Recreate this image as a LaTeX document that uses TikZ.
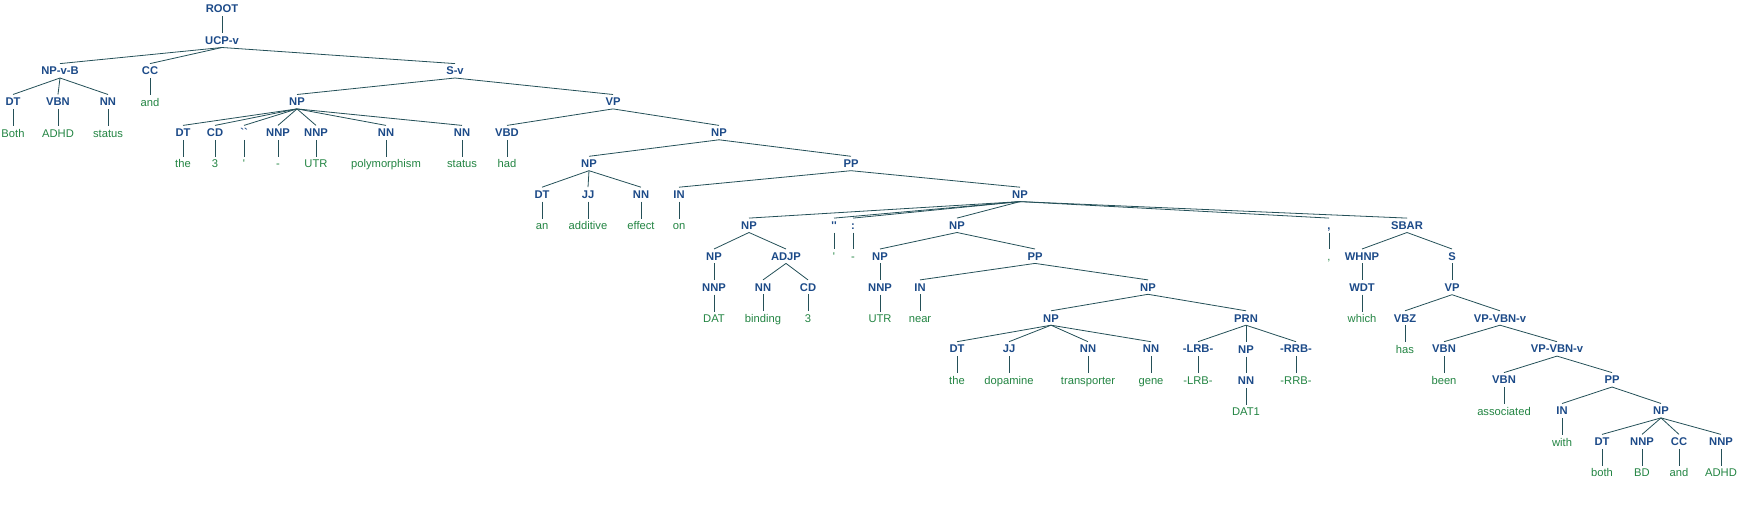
\documentclass[tikz,border=0pt]{standalone}
\usepackage{fontspec}
\usepackage{tikz}
\usetikzlibrary{positioning}
\newfontfamily\treefont{Liberation Sans}
\definecolor{tagblue}{RGB}{28,74,136}
\definecolor{wordgreen}{RGB}{34,132,66}
\definecolor{branchgray}{RGB}{36,80,88}

\begin{document}
\begin{tikzpicture}[
  x=1pt, y=1pt,
  node distance=16.9pt,
  tagnode/.style={font=\treefont\bfseries\fontsize{11.2}{13}\selectfont, text=tagblue, inner xsep=1pt, inner ysep=3pt, text height=8pt, text depth=0pt},
  wordnode/.style={font=\treefont\fontsize{11.2}{13}\selectfont, text=wordgreen, inner xsep=1pt, inner ysep=3pt, text height=8pt, text depth=0pt},
  branch/.style={draw=branchgray, line width=0.8pt}
  ]
  \useasboundingbox (0,0) rectangle (1760,-511);

  % Top of the tree
  \node[tagnode]  (root)                      at (222,-9)      {ROOT};
  \node[tagnode]  (ucp)     [below=of root]                    {UCP-v};

  % Left conjunct
  \node[tagnode]  (npvb)                      at (60,-70.8)    {NP-v-B};
  \node[tagnode]  (dt1)                       at (13,-101.7)   {DT};
  \node[tagnode]  (vbn1)                      at (58,-101.7)   {VBN};
  \node[tagnode]  (nn1)                       at (108,-101.7)  {NN};
  \node[wordnode] (both1)   [below=of dt1]                     {Both};
  \node[wordnode] (adhd1)   [below=of vbn1]                    {ADHD};
  \node[wordnode] (status1) [below=of nn1]                     {status};
  \node[tagnode]  (cc1)                       at (150,-70.8)   {CC};
  \node[wordnode] (and1)    [below=of cc1]                     {and};

  % Subject NP
  \node[tagnode]  (sv)                        at (455,-70.8)   {S-v};
  \node[tagnode]  (np1)                       at (297,-101.7)  {NP};
  \node[tagnode]  (dt2)                       at (183,-132.6)  {DT};
  \node[tagnode]  (cd1)                       at (215,-132.6)  {CD};
  \node[tagnode]  (oq1)                       at (244,-132.6)  {``};
  \node[tagnode]  (nnp1)                      at (278,-132.6)  {NNP};
  \node[tagnode]  (nnp2)                      at (316,-132.6)  {NNP};
  \node[tagnode]  (nn2)                       at (386,-132.6)  {NN};
  \node[tagnode]  (nn3)                       at (462,-132.6)  {NN};
  \node[wordnode] (the1)    [below=of dt2]                     {the};
  \node[wordnode] (three1)  [below=of cd1]                     {3};
  \node[wordnode] (quote1)  [below=of oq1]                     {'};
  \node[wordnode] (dash1)   [below=of nnp1]                    {-};
  \node[wordnode] (utr1)    [below=of nnp2]                    {UTR};
  \node[wordnode] (poly)    [below=of nn2]                     {polymorphism};
  \node[wordnode] (status2) [below=of nn3]                     {status};

  % Verb phrase
  \node[tagnode]  (vp1)                       at (613,-101.7)  {VP};
  \node[tagnode]  (vbd1)                      at (507,-132.6)  {VBD};
  \node[wordnode] (had)     [below=of vbd1]                    {had};
  \node[tagnode]  (np2)                       at (719,-132.6)  {NP};
  \node[tagnode]  (np3)                       at (589,-163.5)  {NP};
  \node[tagnode]  (dt3)                       at (542,-194.4)  {DT};
  \node[tagnode]  (jj1)                       at (588,-194.4)  {JJ};
  \node[tagnode]  (nn4)                       at (641,-194.4)  {NN};
  \node[wordnode] (an)      [below=of dt3]                     {an};
  \node[wordnode] (additive)[below=of jj1]                     {additive};
  \node[wordnode] (effect)  [below=of nn4]                     {effect};
  \node[tagnode]  (pp1)                       at (851,-163.5)  {PP};
  \node[tagnode]  (in1)                       at (679,-194.4)  {IN};
  \node[wordnode] (on)      [below=of in1]                     {on};
  \node[tagnode]  (np4)                       at (1020,-194.4) {NP};

  % DAT binding 3
  \node[tagnode]  (np5)                       at (749,-225.3)  {NP};
  \node[tagnode]  (np6)                       at (714,-256.2)  {NP};
  \node[tagnode]  (nnp3)    [below=of np6]                     {NNP};
  \node[wordnode] (dat)     [below=of nnp3]                    {DAT};
  \node[tagnode]  (adjp)                      at (786,-256.2)  {ADJP};
  \node[tagnode]  (nn5)                       at (763,-287.1)  {NN};
  \node[tagnode]  (cd2)                       at (808,-287.1)  {CD};
  \node[wordnode] (binding) [below=of nn5]                     {binding};
  \node[wordnode] (three2)  [below=of cd2]                     {3};

  % Punctuation
  \node[tagnode]  (cq1)                       at (834,-225.3)  {''};
  \node[wordnode] (quote2)  [below=of cq1]                     {'};
  \node[tagnode]  (colon)                     at (853,-225.3)  {:};
  \node[wordnode] (dash2)   [below=of colon]                   {-};

  % UTR near the dopamine transporter gene
  \node[tagnode]  (np7)                       at (957,-225.3)  {NP};
  \node[tagnode]  (np8)                       at (880,-256.2)  {NP};
  \node[tagnode]  (nnp4)    [below=of np8]                     {NNP};
  \node[wordnode] (utr2)    [below=of nnp4]                    {UTR};
  \node[tagnode]  (pp2)                       at (1035,-256.2) {PP};
  \node[tagnode]  (in2)                       at (920,-287.1)  {IN};
  \node[wordnode] (near)    [below=of in2]                     {near};
  \node[tagnode]  (np9)                       at (1148,-287.1) {NP};
  \node[tagnode]  (np10)                      at (1051,-318)   {NP};
  \node[tagnode]  (dt4)                       at (957,-348.9)  {DT};
  \node[tagnode]  (jj2)                       at (1009,-348.9) {JJ};
  \node[tagnode]  (nn6)                       at (1088,-348.9) {NN};
  \node[tagnode]  (nn7)                       at (1151,-348.9) {NN};
  \node[wordnode] (the2)    [below=of dt4]                     {the};
  \node[wordnode] (dopamine)[below=of jj2]                     {dopamine};
  \node[wordnode] (transp)  [below=of nn6]                     {transporter};
  \node[wordnode] (gene)    [below=of nn7]                     {gene};

  % Parenthesis
  \node[tagnode]  (prn)                       at (1246,-318)   {PRN};
  \node[tagnode]  (lrb)                       at (1198,-348.9) {-LRB-};
  \node[tagnode]  (np11)    [below=of prn]                     {NP};
  \node[tagnode]  (rrb)                       at (1296,-348.9) {-RRB-};
  \node[wordnode] (lrbw)    [below=of lrb]                     {-LRB-};
  \node[tagnode]  (nn8)     [below=of np11]                    {NN};
  \node[wordnode] (dat1)    [below=of nn8]                     {DAT1};
  \node[wordnode] (rrbw)    [below=of rrb]                     {-RRB-};

  % Comma and relative clause
  \node[tagnode]  (comma)                     at (1329,-225.3) {,};
  \node[wordnode] (commaw)  [below=of comma]                   {,};
  \node[tagnode]  (sbar)                      at (1407,-225.3) {SBAR};
  \node[tagnode]  (whnp)                      at (1362,-256.2) {WHNP};
  \node[tagnode]  (wdt)     [below=of whnp]                    {WDT};
  \node[wordnode] (which)   [below=of wdt]                     {which};
  \node[tagnode]  (s1)                        at (1452,-256.2) {S};
  \node[tagnode]  (vp2)     [below=of s1]                      {VP};
  \node[tagnode]  (vbz)                       at (1405,-318)   {VBZ};
  \node[wordnode] (has)     [below=of vbz]                     {has};
  \node[tagnode]  (vpvbn1)                    at (1500,-318)   {VP-VBN-v};
  \node[tagnode]  (vbn2)                      at (1444,-348.9) {VBN};
  \node[wordnode] (been)    [below=of vbn2]                    {been};
  \node[tagnode]  (vpvbn2)                    at (1557,-348.9) {VP-VBN-v};
  \node[tagnode]  (vbn3)                      at (1504,-379.8) {VBN};
  \node[wordnode] (assoc)   [below=of vbn3]                    {associated};
  \node[tagnode]  (pp3)                       at (1612,-379.8) {PP};
  \node[tagnode]  (in3)                       at (1562,-410.7) {IN};
  \node[wordnode] (with)    [below=of in3]                     {with};
  \node[tagnode]  (np12)                      at (1661,-410.7) {NP};
  \node[tagnode]  (dt5)                       at (1602,-441.6) {DT};
  \node[tagnode]  (nnp5)                      at (1642,-441.6) {NNP};
  \node[tagnode]  (cc2)                       at (1679,-441.6) {CC};
  \node[tagnode]  (nnp6)                      at (1721,-441.6) {NNP};
  \node[wordnode] (both2)   [below=of dt5]                     {both};
  \node[wordnode] (bd)      [below=of nnp5]                    {BD};
  \node[wordnode] (and2)    [below=of cc2]                     {and};
  \node[wordnode] (adhd2)   [below=of nnp6]                    {ADHD};

  % Branches, top levels
  \draw[branch] (root.south) -- (ucp.north);
  \draw[branch] (ucp.south) -- (npvb.north);
  \draw[branch] (ucp.south) -- (cc1.north);
  \draw[branch] (ucp.south) -- (sv.north);
  \draw[branch] (npvb.south) -- (dt1.north);
  \draw[branch] (npvb.south) -- (vbn1.north);
  \draw[branch] (npvb.south) -- (nn1.north);
  \draw[branch] (dt1.south) -- (both1.north);
  \draw[branch] (vbn1.south) -- (adhd1.north);
  \draw[branch] (nn1.south) -- (status1.north);
  \draw[branch] (cc1.south) -- (and1.north);

  % Branches, subject NP
  \draw[branch] (sv.south) -- (np1.north);
  \draw[branch] (sv.south) -- (vp1.north);
  \draw[branch] (np1.south) -- (dt2.north);
  \draw[branch] (np1.south) -- (cd1.north);
  \draw[branch] (np1.south) -- (oq1.north);
  \draw[branch] (np1.south) -- (nnp1.north);
  \draw[branch] (np1.south) -- (nnp2.north);
  \draw[branch] (np1.south) -- (nn2.north);
  \draw[branch] (np1.south) -- (nn3.north);
  \draw[branch] (dt2.south) -- (the1.north);
  \draw[branch] (cd1.south) -- (three1.north);
  \draw[branch] (oq1.south) -- (quote1.north);
  \draw[branch] (nnp1.south) -- (dash1.north);
  \draw[branch] (nnp2.south) -- (utr1.north);
  \draw[branch] (nn2.south) -- (poly.north);
  \draw[branch] (nn3.south) -- (status2.north);

  % Branches, verb phrase
  \draw[branch] (vp1.south) -- (vbd1.north);
  \draw[branch] (vp1.south) -- (np2.north);
  \draw[branch] (vbd1.south) -- (had.north);
  \draw[branch] (np2.south) -- (np3.north);
  \draw[branch] (np2.south) -- (pp1.north);
  \draw[branch] (np3.south) -- (dt3.north);
  \draw[branch] (np3.south) -- (jj1.north);
  \draw[branch] (np3.south) -- (nn4.north);
  \draw[branch] (dt3.south) -- (an.north);
  \draw[branch] (jj1.south) -- (additive.north);
  \draw[branch] (nn4.south) -- (effect.north);
  \draw[branch] (pp1.south) -- (in1.north);
  \draw[branch] (pp1.south) -- (np4.north);
  \draw[branch] (in1.south) -- (on.north);

  % Branches, object of on
  \draw[branch] (np4.south) -- (np5.north);
  \draw[branch] (np4.south) -- (cq1.north);
  \draw[branch] (np4.south) -- (colon.north);
  \draw[branch] (np4.south) -- (np7.north);
  \draw[branch] (np4.south) -- (comma.north);
  \draw[branch] (np4.south) -- (sbar.north);
  \draw[branch] (np5.south) -- (np6.north);
  \draw[branch] (np5.south) -- (adjp.north);
  \draw[branch] (np6.south) -- (nnp3.north);
  \draw[branch] (nnp3.south) -- (dat.north);
  \draw[branch] (adjp.south) -- (nn5.north);
  \draw[branch] (adjp.south) -- (cd2.north);
  \draw[branch] (nn5.south) -- (binding.north);
  \draw[branch] (cd2.south) -- (three2.north);
  \draw[branch] (cq1.south) -- (quote2.north);
  \draw[branch] (colon.south) -- (dash2.north);
  \draw[branch] (comma.south) -- (commaw.north);

  % Branches, UTR near ...
  \draw[branch] (np7.south) -- (np8.north);
  \draw[branch] (np7.south) -- (pp2.north);
  \draw[branch] (np8.south) -- (nnp4.north);
  \draw[branch] (nnp4.south) -- (utr2.north);
  \draw[branch] (pp2.south) -- (in2.north);
  \draw[branch] (pp2.south) -- (np9.north);
  \draw[branch] (in2.south) -- (near.north);
  \draw[branch] (np9.south) -- (np10.north);
  \draw[branch] (np9.south) -- (prn.north);
  \draw[branch] (np10.south) -- (dt4.north);
  \draw[branch] (np10.south) -- (jj2.north);
  \draw[branch] (np10.south) -- (nn6.north);
  \draw[branch] (np10.south) -- (nn7.north);
  \draw[branch] (dt4.south) -- (the2.north);
  \draw[branch] (jj2.south) -- (dopamine.north);
  \draw[branch] (nn6.south) -- (transp.north);
  \draw[branch] (nn7.south) -- (gene.north);
  \draw[branch] (prn.south) -- (lrb.north);
  \draw[branch] (prn.south) -- (np11.north);
  \draw[branch] (prn.south) -- (rrb.north);
  \draw[branch] (lrb.south) -- (lrbw.north);
  \draw[branch] (np11.south) -- (nn8.north);
  \draw[branch] (nn8.south) -- (dat1.north);
  \draw[branch] (rrb.south) -- (rrbw.north);

  % Branches, relative clause
  \draw[branch] (sbar.south) -- (whnp.north);
  \draw[branch] (sbar.south) -- (s1.north);
  \draw[branch] (whnp.south) -- (wdt.north);
  \draw[branch] (wdt.south) -- (which.north);
  \draw[branch] (s1.south) -- (vp2.north);
  \draw[branch] (vp2.south) -- (vbz.north);
  \draw[branch] (vp2.south) -- (vpvbn1.north);
  \draw[branch] (vbz.south) -- (has.north);
  \draw[branch] (vpvbn1.south) -- (vbn2.north);
  \draw[branch] (vpvbn1.south) -- (vpvbn2.north);
  \draw[branch] (vbn2.south) -- (been.north);
  \draw[branch] (vpvbn2.south) -- (vbn3.north);
  \draw[branch] (vpvbn2.south) -- (pp3.north);
  \draw[branch] (vbn3.south) -- (assoc.north);
  \draw[branch] (pp3.south) -- (in3.north);
  \draw[branch] (pp3.south) -- (np12.north);
  \draw[branch] (in3.south) -- (with.north);
  \draw[branch] (np12.south) -- (dt5.north);
  \draw[branch] (np12.south) -- (nnp5.north);
  \draw[branch] (np12.south) -- (cc2.north);
  \draw[branch] (np12.south) -- (nnp6.north);
  \draw[branch] (dt5.south) -- (both2.north);
  \draw[branch] (nnp5.south) -- (bd.north);
  \draw[branch] (cc2.south) -- (and2.north);
  \draw[branch] (nnp6.south) -- (adhd2.north);
\end{tikzpicture}
\end{document}
